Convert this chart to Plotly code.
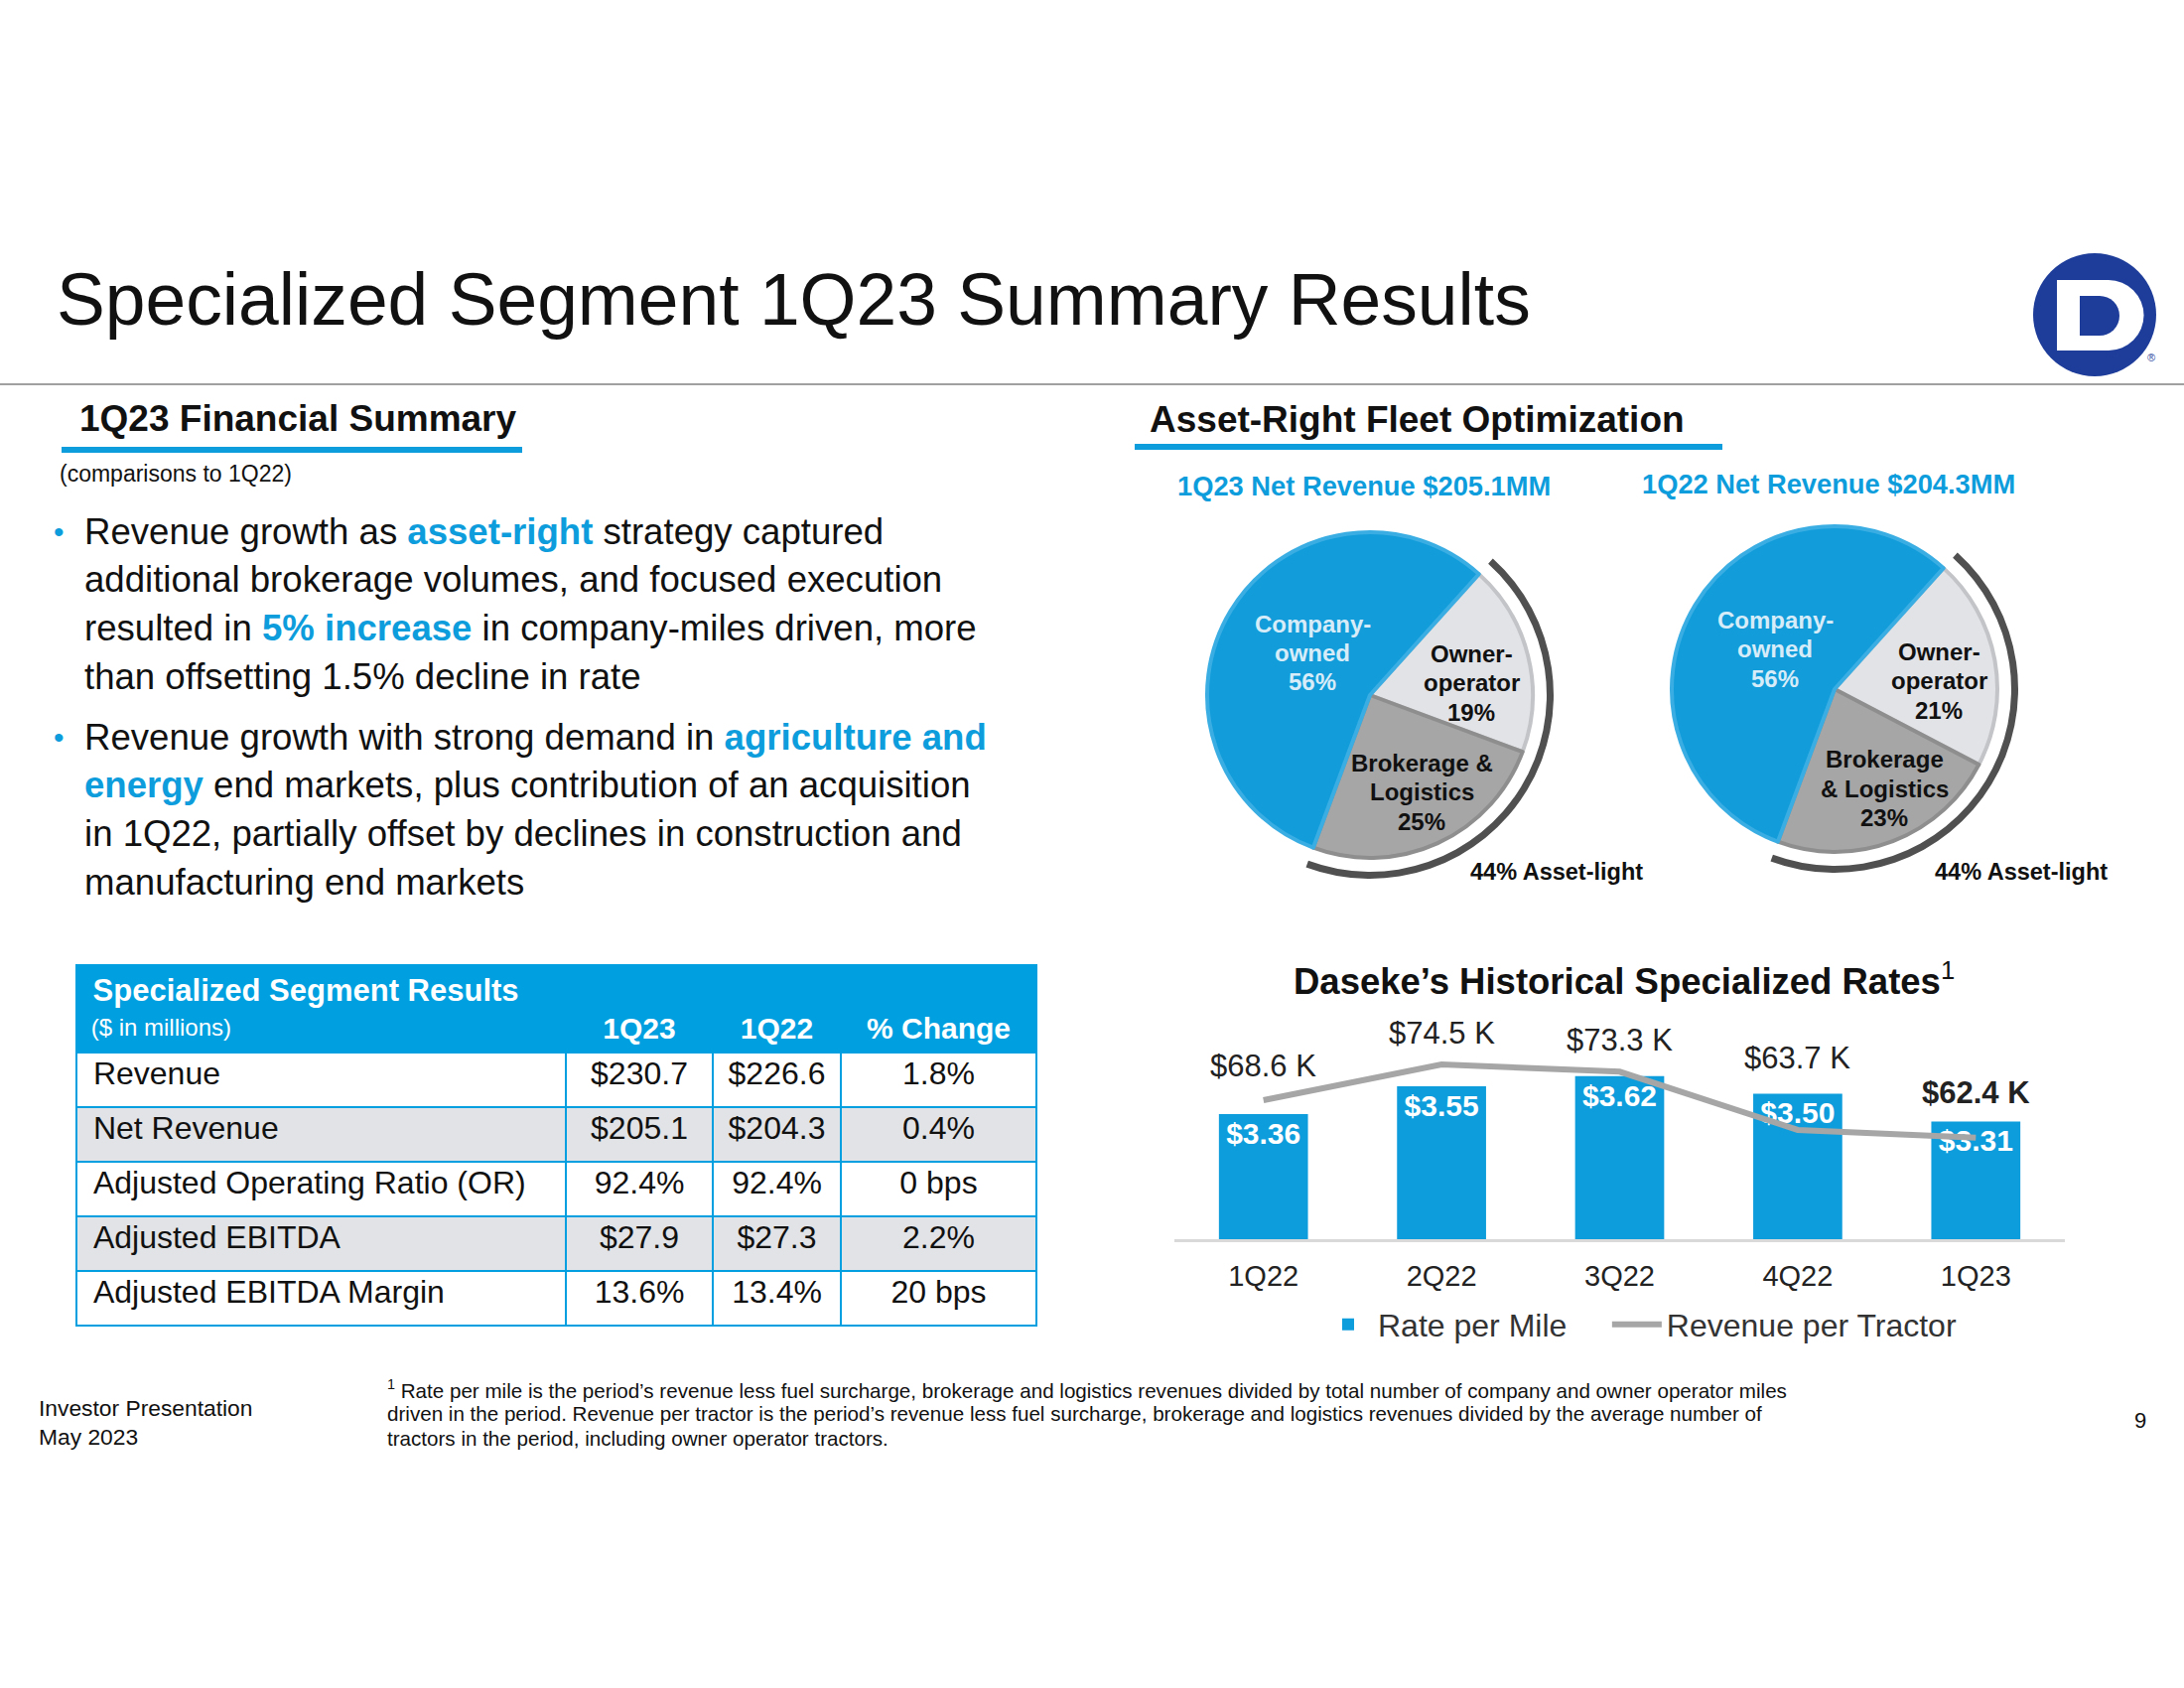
import plotly.graph_objects as go

W, H = 2200, 1700
FONT = "Arial, Liberation Sans, sans-serif"
BLUE = "#0E9DDC"
TBL_BLUE = "#00A0E0"

def px(x):
    return x / W

def py(y):
    return 1 - y / H

# ---------------- data ----------------
quarters = ["1Q22", "2Q22", "3Q22", "4Q22", "1Q23"]
rate_per_mile = [3.36, 3.55, 3.62, 3.50, 3.31]
revenue_per_tractor = [68.6, 74.5, 73.3, 63.7, 62.4]

pie_labels = ["Owner-operator", "Brokerage & Logistics", "Company-owned"]
pie_1q23 = [19, 25, 56]
pie_1q22 = [21, 23, 56]
asset_light = [44, 56]

tbl_rows = ["Revenue", "Net Revenue", "Adjusted Operating Ratio (OR)",
            "Adjusted EBITDA", "Adjusted EBITDA Margin"]
tbl_1q23 = ["$230.7", "$205.1", "92.4%", "$27.9", "13.6%"]
tbl_1q22 = ["$226.6", "$204.3", "92.4%", "$27.3", "13.4%"]
tbl_change = ["1.8%", "0.4%", "0 bps", "2.2%", "20 bps"]
tbl_cols = ["1Q23", "1Q22", "% Change"]

net_rev_titles = ["1Q23 Net Revenue $205.1MM", "1Q22 Net Revenue $204.3MM"]

# ---------------- figure ----------------
fig = go.Figure()

slice_colors = ["#E2E3E7", "#A6A6A6", "#129CDA"]
slice_edges = ["#C3C4C8", "#8E8E8E", "#3AAEE3"]

pie_centers = [(1380, 700), (1848, 694)]
pie_r = 164
arc_r = 185
for (cx, cy), vals in zip(pie_centers, [pie_1q23, pie_1q22]):
    # outer "asset-light" arc
    fig.add_trace(go.Pie(
        values=asset_light, labels=["Asset-light", "Asset"],
        marker=dict(colors=["#505050", "rgba(0,0,0,0)"], line=dict(width=0)),
        hole=(arc_r - 7) / arc_r, sort=False, direction="clockwise", rotation=42,
        textinfo="none", hoverinfo="skip", showlegend=False,
        domain=dict(x=[px(cx - arc_r), px(cx + arc_r)], y=[py(cy + arc_r), py(cy - arc_r)]),
    ))
    fig.add_trace(go.Pie(
        values=vals, labels=pie_labels,
        marker=dict(colors=slice_colors, line=dict(color=slice_edges, width=4)),
        sort=False, direction="clockwise", rotation=42,
        textinfo="none", hoverinfo="label+percent", showlegend=False,
        domain=dict(x=[px(cx - pie_r), px(cx + pie_r)], y=[py(cy + pie_r), py(cy - pie_r)]),
    ))

# bar + line
fig.add_trace(go.Bar(
    x=quarters, y=rate_per_mile, name="Rate per Mile" + "\u00a0" * 4,
    marker=dict(color=BLUE, line=dict(width=0)), width=0.5,
    texttemplate="<b>$%{y:.2f}</b>", textposition="inside", insidetextanchor="end",
    textangle=0, constraintext="none",
    textfont=dict(color="white", size=30, family=FONT),
    xaxis="x", yaxis="y",
))
fig.add_trace(go.Scatter(
    x=quarters, y=revenue_per_tractor, name="Revenue per Tractor",
    mode="lines", line=dict(color="#A6A6A6", width=6),
    xaxis="x", yaxis="y2",
))

# table
row_fill = ["white", "#E1E3E6", "white", "#E1E3E6", "white"]
fig.add_trace(go.Table(
    domain=dict(x=[px(77), px(1044)], y=[py(1336), py(972)]),
    columnwidth=[493, 148, 129, 197],
    header=dict(
        values=["<b><span style='font-size:31px'>\u00a0Specialized Segment Results</span></b><br>"
                "<span style='font-size:24px'>\u00a0($ in millions)</span>"]
               + ["\u00a0<br><b>%s</b>" % c for c in tbl_cols],
        fill=dict(color=TBL_BLUE), line=dict(color=TBL_BLUE, width=2),
        align=["left", "center", "center", "center"],
        font=dict(color="white", size=[27, 30, 30, 30], family=FONT), height=86,
    ),
    cells=dict(
        values=[["\u00a0" + r for r in tbl_rows], tbl_1q23, tbl_1q22, tbl_change],
        fill=dict(color=[row_fill] * 4), line=dict(color=TBL_BLUE, width=2),
        align=["left", "center", "center", "center"],
        font=dict(color="#111111", size=32, family=FONT), height=55,
    ),
))

ann = []

def text(x, y, s, size, color="#111111", xanchor="left", bold=False, yanchor="middle"):
    if bold:
        s = "<b>%s</b>" % s
    ann.append(dict(x=px(x), y=py(y), xref="paper", yref="paper", text=s, showarrow=False,
                    xanchor=xanchor, yanchor=yanchor,
                    font=dict(size=size, color=color, family=FONT)))

# title
text(55, 302, "Specialized Segment 1Q23 Summary Results", 73.2, "#111111")
text(78, 421, "1Q23 Financial Summary", 37, "#111111", bold=True)
text(58, 477, "(comparisons to 1Q22)", 23, "#111111")
text(1156, 422, "Asset-Right Fleet Optimization", 37, "#111111", bold=True)

hl = "<b><span style='color:%s'>%%s</span></b>" % BLUE
bullet1 = ["Revenue growth as " + hl % "asset-right" + " strategy captured",
           "additional brokerage volumes, and focused execution",
           "resulted in " + hl % "5% increase" + " in company-miles driven, more",
           "than offsetting 1.5% decline in rate"]
bullet2 = ["Revenue growth with strong demand in " + hl % "agriculture and",
           hl % "energy" + " end markets, plus contribution of an acquisition",
           "in 1Q22, partially offset by declines in construction and",
           "manufacturing end markets"]
for lines, y0 in [(bullet1, 535), (bullet2, 742)]:
    text(52, y0, "•", 30, BLUE)
    for i, ln in enumerate(lines):
        text(83, y0 + i * 48.7, ln, 36.6, "#111111")

# net revenue titles
text(1374, 490, net_rev_titles[0], 27.3, BLUE, xanchor="center", bold=True)
text(1842, 487, net_rev_titles[1], 27.3, BLUE, xanchor="center", bold=True)

# pie labels
pie_label_lines = [
    (["Company-", "owned", "%d%%" % pie_1q23[2]], (1322, 628), "#D6ECF8"),
    (["Owner-", "operator", "%d%%" % pie_1q23[0]], (1482, 658), "#111111"),
    (["Brokerage &", "Logistics", "%d%%" % pie_1q23[1]], (1432, 768), "#111111"),
    (["Company-", "owned", "%d%%" % pie_1q22[2]], (1788, 624), "#D6ECF8"),
    (["Owner-", "operator", "%d%%" % pie_1q22[0]], (1953, 656), "#111111"),
    (["Brokerage", "& Logistics", "%d%%" % pie_1q22[1]], (1898, 765), "#111111"),
]
for lines, (lx, ly), col in pie_label_lines:
    for i, ln in enumerate(lines):
        text(lx, ly + i * 29.5, ln, 24, col, xanchor="center", bold=True)

text(1479, 878, "%d%% Asset-light" % asset_light[0], 23.5, "#111111", bold=True)
text(1947, 878, "%d%% Asset-light" % asset_light[0], 23.5, "#111111", bold=True)

# bar chart title
text(1636, 986, "<b>Daseke’s Historical Specialized Rates</b><sup>1</sup>", 36.5, "#111111",
     xanchor="center")

# line value labels
label_shift = [35, 32, 32, 72, 45]
for i, (q, v) in enumerate(zip(quarters, revenue_per_tractor)):
    s = "$%.1f K" % v
    if i == len(quarters) - 1:
        s = "<b>%s</b>" % s
    ann.append(dict(x=q, y=v, xref="x", yref="y2", text=s, showarrow=False,
                    yshift=label_shift[i], xanchor="center", yanchor="middle",
                    font=dict(size=31, color="#222222", family=FONT)))

# footer
text(37, 1418, "Investor Presentation", 22.8, "#111111")
text(37, 1447, "May 2023", 22.8, "#111111")
foot = ["<sup>1</sup> Rate per mile is the period’s revenue less fuel surcharge, brokerage and logistics revenues divided by total number of company and owner operator miles",
        "driven in the period. Revenue per tractor is the period’s revenue less fuel surcharge, brokerage and logistics revenues divided by the average number of",
        "tractors in the period, including owner operator tractors."]
for i, ln in enumerate(foot):
    text(388, 1399 + i * 24.5, ln, 20.6, "#111111")
text(2156, 1430, "9", 22, "#111111", xanchor="center")
text(2167, 360, "®", 11, "#1E3D9A", xanchor="center")

# shapes
shapes = []
def line(x0, y0, x1, y1, color, width):
    shapes.append(dict(type="line", xref="paper", yref="paper", x0=px(x0), y0=py(y0),
                       x1=px(x1), y1=py(y1), line=dict(color=color, width=width)))

line(0, 387, 2200, 387, "#A0A0A0", 2)
line(62, 453, 526, 453, BLUE, 6)
line(1143, 450, 1735, 450, BLUE, 6)

def rect(x0, y0, x1, y1, color):
    shapes.append(dict(type="rect", xref="paper", yref="paper", x0=px(x0), y0=py(y1),
                       x1=px(x1), y1=py(y0), fillcolor=color, line=dict(width=0)))

def circ(cx, cy, r, color):
    shapes.append(dict(type="circle", xref="paper", yref="paper", x0=px(cx - r), y0=py(cy + r),
                       x1=px(cx + r), y1=py(cy - r), fillcolor=color, line=dict(width=0)))

NAVY = "#1E3D9A"
circ(2110, 317, 62, NAVY)
rect(2072, 282, 2124, 353, "white")
circ(2124, 317.5, 35.5, "white")
rect(2095, 298, 2115, 338, NAVY)
circ(2115, 318, 20, NAVY)

fig.update_layout(
    width=W, height=H, margin=dict(l=0, r=0, t=0, b=0),
    paper_bgcolor="white", plot_bgcolor="white",
    font=dict(family=FONT, color="#111111"),
    annotations=ann, shapes=shapes,
    xaxis=dict(domain=[px(1183), px(2080)], range=[-0.5, 4.5], showgrid=False,
               showline=True, linecolor="#D9D9D9", linewidth=3, ticks="",
               tickfont=dict(size=29, color="#222222", family=FONT), ticklabelstandoff=9,
               zeroline=False),
    yaxis=dict(domain=[py(1248), py(1060)], range=[2.503, 3.782], visible=False),
    yaxis2=dict(domain=[py(1248), py(1060)], range=[45.65, 76.47], visible=False,
                overlaying="y"),
    showlegend=True,
    legend=dict(orientation="h", x=px(1652), xanchor="center", y=py(1334), yanchor="middle",
                font=dict(size=32, color="#333333", family=FONT), itemwidth=50,
                bgcolor="rgba(0,0,0,0)"),
    bargap=0.5,
)

fig.write_html("out.html", config={"displayModeBar": False},
               post_script="document.body.style.margin='0px';")
